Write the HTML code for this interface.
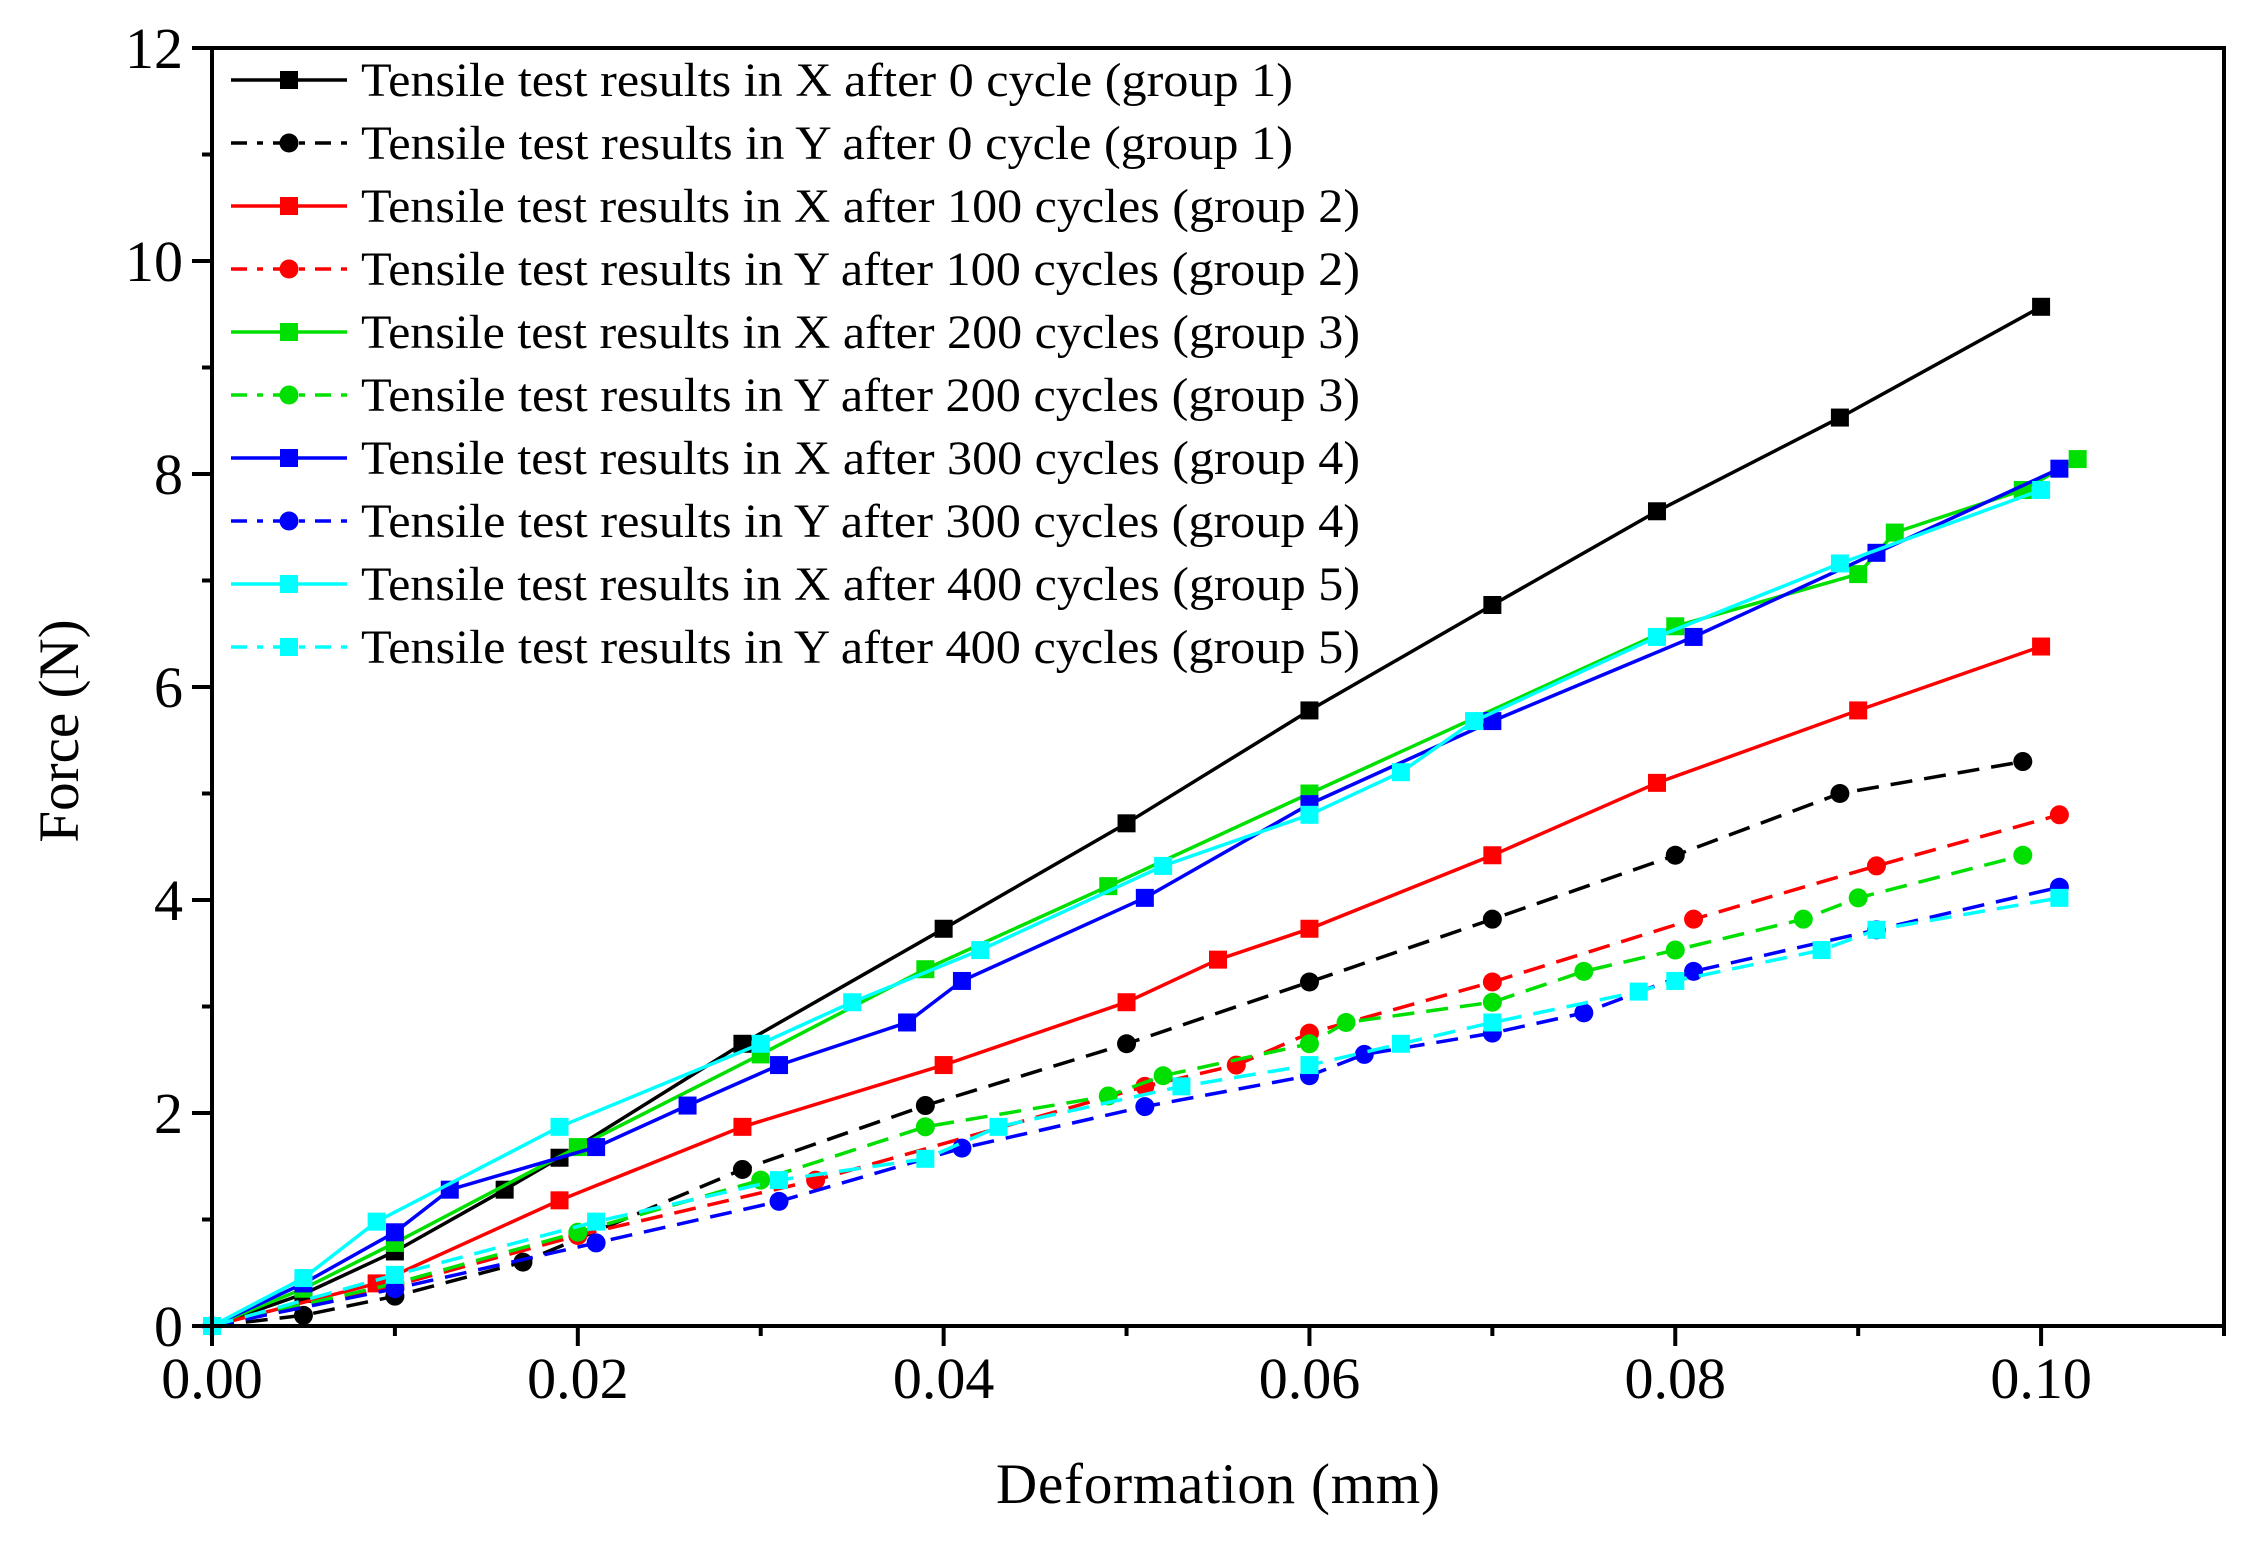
<!DOCTYPE html>
<html><head><meta charset="utf-8"><style>
html,body{margin:0;padding:0;background:#fff;}
svg{display:block;font-family:"Liberation Serif",serif;}
</style></head><body>
<svg id="chart" width="2247" height="1542" viewBox="0 0 2247 1542" xmlns="http://www.w3.org/2000/svg">
<rect x="0" y="0" width="2247" height="1542" fill="#fff"/>
<g id="marks"></g>
<g id="axes"></g>
<g id="legend"></g>
<text x="1218" y="1503" font-size="57" text-anchor="middle" textLength="444">Deformation (mm)</text>
<text transform="translate(78,731) rotate(-90)" font-size="57" text-anchor="middle">Force (N)</text>
</svg>
<script>
const xTicks = [0,0.02,0.04,0.06,0.08,0.10];
const xTickLabels = ["0.00","0.02","0.04","0.06","0.08","0.10"];
const yTicks = [0,2,4,6,8,10,12];
const yTickLabels = ["0","2","4","6","8","10","12"];
const seriesNames = [
 "Tensile test results in X after 0 cycle (group 1)",
 "Tensile test results in Y after 0 cycle (group 1)",
 "Tensile test results in X after 100 cycles (group 2)",
 "Tensile test results in Y after 100 cycles (group 2)",
 "Tensile test results in X after 200 cycles (group 3)",
 "Tensile test results in Y after 200 cycles (group 3)",
 "Tensile test results in X after 300 cycles (group 4)",
 "Tensile test results in Y after 300 cycles (group 4)",
 "Tensile test results in X after 400 cycles (group 5)",
 "Tensile test results in Y after 400 cycles (group 5)"];
const g1xX=[0,0.005,0.01,0.016,0.019,0.029,0.04,0.05,0.06,0.07,0.079,0.089,0.1];
const g1xY=[0,0.3,0.7,1.28,1.58,2.65,3.73,4.72,5.78,6.77,7.65,8.53,9.57];
const g1yX=[0,0.005,0.01,0.017,0.029,0.039,0.05,0.06,0.07,0.08,0.089,0.099];
const g1yY=[0,0.1,0.28,0.6,1.47,2.07,2.65,3.23,3.82,4.42,5.0,5.3];
const g2xX=[0,0.009,0.019,0.029,0.04,0.05,0.055,0.06,0.07,0.079,0.09,0.1];
const g2xY=[0,0.4,1.18,1.87,2.45,3.04,3.44,3.73,4.42,5.1,5.78,6.38];
const g2yX=[0,0.01,0.02,0.033,0.051,0.056,0.06,0.07,0.081,0.091,0.101];
const g2yY=[0,0.38,0.85,1.37,2.25,2.45,2.75,3.23,3.82,4.32,4.8];
const g3xX=[0,0.005,0.01,0.02,0.03,0.039,0.049,0.06,0.08,0.09,0.092,0.099,0.102];
const g3xY=[0,0.35,0.78,1.68,2.55,3.35,4.13,5.0,6.57,7.06,7.45,7.85,8.14];
const g3yX=[0,0.01,0.02,0.03,0.039,0.049,0.052,0.06,0.062,0.07,0.075,0.08,0.087,0.09,0.099];
const g3yY=[0,0.4,0.88,1.37,1.87,2.16,2.35,2.65,2.85,3.04,3.33,3.53,3.82,4.02,4.42];
const g4xX=[0,0.005,0.01,0.013,0.021,0.026,0.031,0.038,0.041,0.051,0.06,0.07,0.081,0.091,0.101];
const g4xY=[0,0.4,0.88,1.28,1.68,2.07,2.45,2.85,3.24,4.02,4.9,5.68,6.47,7.26,8.05];
const g4yX=[0,0.01,0.021,0.031,0.041,0.051,0.06,0.063,0.07,0.075,0.081,0.091,0.101];
const g4yY=[0,0.35,0.78,1.17,1.67,2.06,2.35,2.55,2.75,2.94,3.33,3.72,4.12];
const g5xX=[0,0.005,0.009,0.019,0.03,0.035,0.042,0.052,0.06,0.065,0.069,0.079,0.089,0.1];
const g5xY=[0,0.45,0.98,1.87,2.65,3.04,3.53,4.32,4.8,5.2,5.68,6.47,7.16,7.85];
const g5yX=[0,0.01,0.021,0.031,0.039,0.043,0.053,0.06,0.065,0.07,0.078,0.08,0.088,0.091,0.101];
const g5yY=[0,0.48,0.98,1.37,1.57,1.87,2.25,2.45,2.65,2.85,3.14,3.24,3.53,3.72,4.02];

const L=212,R=2224,T=48,B=1326,XMAX=0.11,YMAX=12;
function sx(v){return L+v/XMAX*(R-L);}
function sy(v){return B-v/YMAX*(B-T);}
const NS="http://www.w3.org/2000/svg";
function mk(tag,attrs,parent){const e=document.createElementNS(NS,tag);for(const k in attrs)e.setAttribute(k,attrs[k]);parent.appendChild(e);return e;}

const DASH="22 12";
const series=[
 {x:g1xX,y:g1xY,c:"#000",dash:null,m:"s"},{x:g1yX,y:g1yY,c:"#000",dash:DASH,m:"c"},
 {x:g2xX,y:g2xY,c:"#ff0000",dash:null,m:"s"},{x:g2yX,y:g2yY,c:"#ff0000",dash:DASH,m:"c"},
 {x:g3xX,y:g3xY,c:"#00e000",dash:null,m:"s"},{x:g3yX,y:g3yY,c:"#00e000",dash:DASH,m:"c"},
 {x:g4xX,y:g4xY,c:"#0000ff",dash:null,m:"s"},{x:g4yX,y:g4yY,c:"#0000ff",dash:DASH,m:"c"},
 {x:g5xX,y:g5xY,c:"#00ffff",dash:null,m:"s"},{x:g5yX,y:g5yY,c:"#00ffff",dash:DASH,m:"s"}];

const marks=document.getElementById('marks');
function marker(type,cx,cy,c,parent){
 let e;
 if(type==="s"){e=mk('rect',{x:cx-9,y:cy-9,width:18,height:18,fill:c},parent);}
 else{e=mk('circle',{cx:cx,cy:cy,r:9.5,fill:c},parent);}
 return e;
}
series.forEach((s,i)=>{
 const pts=s.x.map((v,j)=>sx(v).toFixed(1)+","+sy(s.y[j]).toFixed(1)).join(" ");
 const pl=mk('polyline',{points:pts,fill:"none",stroke:s.c,"stroke-width":3.5},marks);
 if(s.dash)pl.setAttribute('stroke-dasharray',s.dash);
 
 
 s.x.forEach((v,j)=>{
  const e=marker(s.m,sx(v),sy(s.y[j]),s.c,marks);
  
  
 });
});

const axes=document.getElementById('axes');
const fr=mk('rect',{x:L,y:T,width:R-L,height:B-T,fill:"none",stroke:"#000","stroke-width":4},axes);


for(let k=0;k<=11;k++){
 const v=k*0.01,x=sx(v),major=(k%2===0);
 const t=mk('line',{x1:x,y1:B,x2:x,y2:B+(major?20:10),stroke:"#000","stroke-width":4},axes);
 
 
}
xTicks.forEach((v,i)=>{
 const t=mk('text',{x:sx(v),y:1398,"font-size":58,"text-anchor":"middle"},axes);
 t.textContent=xTickLabels[i];
 
 
});
for(let k=0;k<=12;k++){
 const y=sy(k),major=(k%2===0);
 const t=mk('line',{x1:L,y1:y,x2:L-(major?20:10),y2:y,stroke:"#000","stroke-width":4},axes);
 
 
}
yTicks.forEach((v,i)=>{
 const t=mk('text',{x:183,y:sy(v)+20,"font-size":58,"text-anchor":"end"},axes);
 t.textContent=yTickLabels[i];
 
 
});

const leg=document.getElementById('legend');
const textW=[932,932,999,999,999,999,999,999,999,999];
series.forEach((s,i)=>{
 const y=80+63*i;
 const g=mk('g',{},leg);
 
 
 const l=mk('line',{x1:231,y1:y,x2:347,y2:y,stroke:s.c,"stroke-width":3.5},g);
 if(s.dash)l.setAttribute('stroke-dasharray',"16 10 6 10");
 marker(s.m,289,y,s.c,g);
 const t=mk('text',{x:361,y:y+16,"font-size":48,textLength:textW[i],lengthAdjust:"spacingAndGlyphs"},g);
 t.textContent=seriesNames[i];
});
</script>
</body></html>
